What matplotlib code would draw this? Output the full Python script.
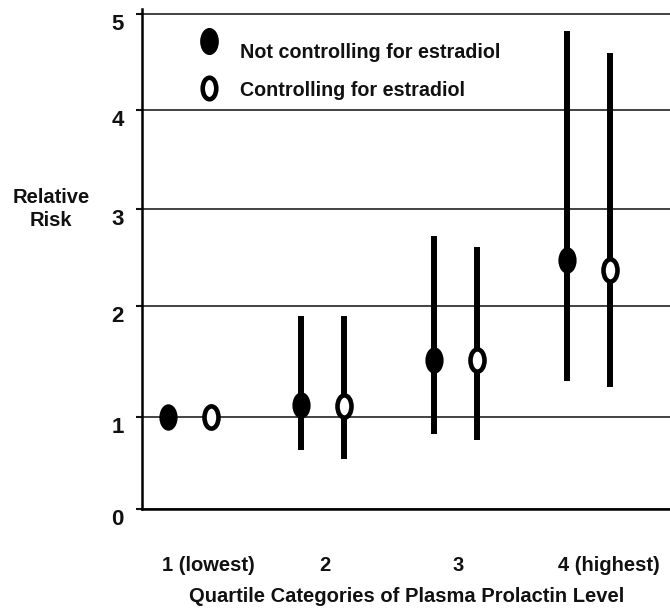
import numpy as np
import matplotlib
matplotlib.use("Agg")
import matplotlib.pyplot as plt
from matplotlib.path import Path
from matplotlib.transforms import Affine2D, ScaledTranslation

plt.rcParams['font.family'] = ['Liberation Sans', 'DejaVu Sans']
plt.rcParams['font.weight'] = 'bold'
plt.rcParams['axes.labelweight'] = 'bold'

# data
categories = ['1 (lowest)', '2', '3', '4 (highest)']
rr_not = [1.0, 1.11, 1.51, 2.47]
lo_not = [1.0, 0.64, 0.82, 1.32]
hi_not = [1.0, 1.91, 2.72, 4.82]
rr_ctrl = [1.0, 1.10, 1.51, 2.37]
lo_ctrl = [1.0, 0.54, 0.75, 1.27]
hi_ctrl = [1.0, 1.91, 2.61, 4.59]
yticks = [0, 1, 2, 3, 4, 5]

# the printed axis is not evenly spaced, so follow its gridlines
grid_v = np.array([-1, 0, 1, 2, 3, 4, 5, 6])
grid_p = np.array([-92, 0, 92, 203, 300, 399, 495, 591])
def fwd(v):
    return np.interp(v, grid_v, grid_p)
def inv(p):
    return np.interp(p, grid_p, grid_v)

x = np.arange(1, len(categories) + 1)
off = 0.165

fig = plt.figure(figsize=(6.7, 6.12), dpi=100)
ax = fig.add_axes([142/670, 103/612, 1 - 142/670, 500/612])
ax.set_yscale('function', functions=(fwd, inv))

# elliptical markers
ell = Path.unit_circle().transformed(Affine2D().scale(0.69, 1.0))
ell_o = Path.unit_circle().transformed(Affine2D().scale(0.63, 1.0))

ax.vlines(x - off, lo_not, hi_not, color='black', lw=4.3, zorder=3)
ax.vlines(x + off, lo_ctrl, hi_ctrl, color='black', lw=4.3, zorder=3)
ax.plot(x - off, rr_not, ls='none', marker=ell, ms=19, mfc='black',
        mec='black', mew=0, zorder=4)
ax.plot(x + off, rr_ctrl, ls='none', marker=ell_o, ms=16, mfc='white',
        mec='black', mew=3.3, zorder=4)

# legend drawn by hand like the original
ax.plot([1.147], [4.72], ls='none', marker=ell, ms=19.5, mfc='black', mew=0)
ax.plot([1.147], [4.23], ls='none', marker=ell_o, ms=15.5, mfc='white',
        mec='black', mew=3.3)
ax.text(1.38, 4.60, 'Not controlling for estradiol', fontsize=14.2,
        va='center', ha='left', color='#111111')
ax.text(1.38, 4.20, 'Controlling for estradiol', fontsize=14.2,
        va='center', ha='left', color='#111111')

ax.set_xlim(0.643, 4.613)
ax.set_ylim(0, 5.05)
ax.set_yticks(yticks)
ax.set_yticklabels([str(t) for t in yticks], fontsize=16)
ax.yaxis.grid(True, color='#222222', lw=1.2)
ax.set_axisbelow(True)
ax.tick_params(axis='y', length=4, width=1.5, pad=9, colors='#111111')
for lab in ax.get_yticklabels():
    lab.set_transform(lab.get_transform() +
                      ScaledTranslation(0, -0.08, fig.dpi_scale_trans))

ax.set_xticks([1.14, 2.02, 3.02, 4.15])
ax.set_xticklabels(categories, fontsize=14.5)
ax.tick_params(axis='x', length=0, pad=34, colors='#111111')
ax.set_xlabel('Quartile Categories of Plasma Prolactin Level', fontsize=14.5,
              color='#111111', va='center')
ax.xaxis.set_label_coords((407 - 142) / 528, -0.176)

ax.set_ylabel('Relative\nRisk', rotation=0, fontsize=14.5, ha='center',
              va='center', color='#111111', linespacing=1.3)
ax.yaxis.set_label_coords(-0.172, 0.60)

for s in ['top', 'right']:
    ax.spines[s].set_visible(False)
ax.spines['left'].set_linewidth(1.8)
ax.spines['bottom'].set_linewidth(1.8)

fig.savefig('out.png', dpi=100)
